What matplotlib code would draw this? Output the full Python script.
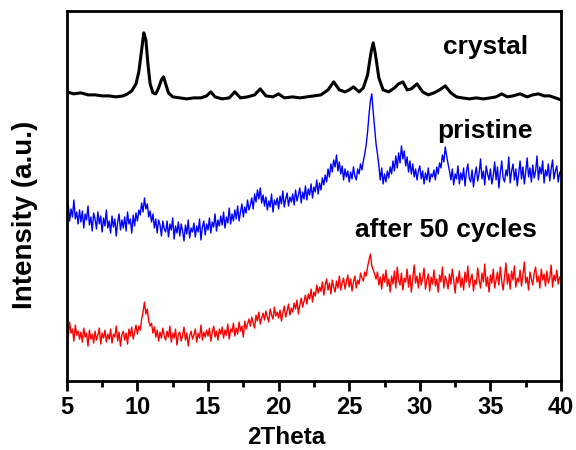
import numpy as np
import matplotlib
matplotlib.use("Agg")
import matplotlib.pyplot as plt
from matplotlib.ticker import MultipleLocator

plt.rcParams["font.family"] = ["Liberation Sans", "DejaVu Sans"]
plt.rcParams["font.weight"] = "bold"

# crystal pattern (stacked, arbitrary units)
crystal_2theta = [5.0, 5.5, 6.0, 6.5, 7.0, 7.5, 8.0, 8.5, 9.0, 9.3, 9.6, 9.9, 10.1, 10.3,
                  10.45, 10.6, 10.75, 10.9, 11.1, 11.3, 11.5, 11.7, 11.85, 12.0, 12.2, 12.5,
                  13.0, 13.5, 14.0, 14.5, 14.9, 15.2, 15.5, 16.0, 16.5, 16.9, 17.3, 17.8,
                  18.3, 18.7, 19.1, 19.6, 20.0, 20.4, 21.0, 21.5, 22.0, 22.5, 23.0, 23.5,
                  23.9, 24.3, 24.7, 25.0, 25.3, 25.7, 26.0, 26.3, 26.55, 26.7, 26.85, 27.1,
                  27.4, 27.8, 28.2, 28.5, 28.8, 29.1, 29.4, 29.8, 30.2, 30.6, 31.0, 31.4,
                  31.8, 32.2, 32.6, 33.0, 33.5, 34.0, 34.5, 35.0, 35.4, 35.8, 36.2, 36.6,
                  37.1, 37.6, 38.0, 38.4, 38.8, 39.2, 39.6, 40.0]
crystal = [358, 356, 357, 355, 355, 354, 354, 353, 354, 356, 359, 366, 378, 400,
           417, 410, 385, 366, 357, 356, 362, 370, 373, 366, 357, 353,
           352, 351, 352, 352, 354, 358, 353, 351, 352, 358, 352, 353,
           355, 361, 354, 353, 356, 352, 353, 352, 353, 354, 355, 360,
           368, 360, 358, 360, 363, 358, 362, 375, 398, 407, 396, 372,
           360, 358, 362, 366, 368, 360, 361, 366, 358, 355, 357, 360,
           364, 357, 353, 352, 351, 352, 351, 352, 353, 356, 353, 354,
           356, 353, 355, 356, 354, 354, 352, 350]

# pristine and cycled electrodes, 0.1 deg steps from 5 to 40
pristine = [
    236, 246, 229, 241, 233, 250, 231, 238, 226, 240,
    228, 239, 222, 236, 230, 244, 225, 233, 219, 237,
    231, 221, 238, 226, 234, 218, 232, 224, 240, 222,
    229, 217, 234, 223, 231, 214, 228, 236, 220, 230,
    222, 233, 219, 238, 226, 231, 217, 235, 224, 237,
    229, 240, 235, 247, 238, 252, 241, 246, 233, 239,
    228, 236, 222, 231, 217, 230, 225, 214, 229, 221,
    218, 229, 213, 226, 220, 232, 211, 224, 217, 228,
    214, 226, 219, 209, 225, 216, 230, 212, 222, 218,
    227, 213, 224, 218, 231, 210, 223, 229, 215, 226,
    220, 232, 217, 228, 223, 236, 219, 230, 224, 234,
    225, 238, 222, 233, 227, 242, 226, 236, 229, 240,
    231, 244, 229, 238, 246, 233, 243, 237, 250, 240,
    245, 252, 241, 256, 248, 260, 251, 262, 247, 255,
    244, 253, 240, 249, 243, 256, 238, 250, 245, 252,
    241, 254, 246, 259, 243, 251, 257, 244, 253, 248,
    256, 245, 260, 249, 255, 262, 247, 258, 251, 264,
    250, 261, 255, 266, 252, 263, 258, 270, 256, 267,
    260, 272, 265, 275, 268, 281, 273, 286, 278, 290,
    283, 295, 279, 288, 276, 284, 270, 281, 273, 279,
    268, 278, 271, 283, 274, 270, 281, 276, 286, 280,
    289, 296, 305, 318, 335, 349, 356, 338, 322, 306,
    296, 284, 270, 282, 266, 276, 268, 279, 272, 283,
    276, 289, 279, 294, 282, 297, 287, 304, 291, 299,
    284, 293, 278, 289, 276, 286, 273, 281, 270, 279,
    284, 271, 279, 266, 277, 270, 282, 268, 276, 273,
    280, 270, 283, 276, 287, 282, 295, 288, 303, 294,
    286, 279, 270, 281, 265, 276, 271, 284, 266, 277,
    270, 282, 264, 278, 286, 272, 268, 280, 263, 275,
    283, 269, 277, 291, 271, 279, 265, 284, 276, 270,
    281, 266, 274, 288, 270, 283, 262, 277, 289, 272,
    268, 280, 274, 293, 267, 279, 286, 270, 281, 264,
    277, 289, 271, 283, 266, 278, 292, 273, 282, 268,
    285, 272, 279, 294, 270, 283, 276, 289, 267, 280,
    274, 286, 269, 281, 290, 271, 279, 284, 268, 277,
    280]

cycled = [
    124, 112, 128, 117, 121, 109, 125, 115, 119, 111,
    118, 108, 122, 113, 117, 104, 120, 111, 116, 107,
    119, 110, 115, 122, 106, 117, 112, 120, 108, 116,
    111, 121, 107, 116, 113, 124, 109, 118, 104, 115,
    119, 110, 117, 106, 121, 114, 123, 111, 118, 125,
    116, 124, 120, 131, 138, 148, 136, 141, 129, 124,
    127, 117, 123, 113, 120, 109, 118, 112, 122, 114,
    110, 119, 113, 124, 108, 117, 112, 121, 105, 116,
    118, 109, 115, 123, 110, 117, 104, 114, 119, 111,
    115, 121, 108, 117, 112, 125, 110, 118, 113, 120,
    114, 122, 109, 118, 124, 113, 119, 110, 121, 116,
    123, 112, 120, 115, 126, 111, 121, 118, 127, 114,
    122, 116, 128, 119, 124, 113, 129, 121, 126, 131,
    124, 133, 127, 122, 135, 129, 138, 126, 132, 137,
    130, 139, 133, 128, 141, 135, 131, 143, 134, 138,
    132, 140, 129, 137, 144, 133, 139, 146, 135, 142,
    138, 147, 141, 150, 136, 145, 152, 143, 149, 155,
    146, 156, 151, 161, 148, 158, 154, 165, 157, 163,
    159, 168, 155, 165, 171, 160, 167, 156, 170, 163,
    158, 169, 162, 174, 160, 167, 172, 161, 168, 175,
    163, 171, 159, 168, 174, 162, 170, 166, 177, 172,
    169, 178, 174, 183, 190, 196, 184, 180, 176, 171,
    178, 165, 173, 161, 176, 168, 180, 164, 171, 158,
    174, 166, 179, 162, 183, 170, 165, 177, 160, 172,
    168, 181, 163, 175, 158, 171, 185, 167, 174, 162,
    177, 165, 172, 182, 161, 170, 176, 159, 173, 166,
    180, 164, 171, 158, 175, 168, 183, 162, 174, 169,
    161, 176, 166, 181, 170, 157, 173, 167, 179, 163,
    172, 160, 178, 168, 184, 163, 171, 176, 159, 170,
    166, 182, 170, 162, 177, 168, 186, 164, 173, 158,
    175, 167, 181, 162, 170, 178, 165, 183, 169, 160,
    174, 187, 166, 176, 161, 179, 170, 184, 163, 172,
    168, 180, 164, 175, 188, 167, 173, 160, 178, 171,
    165, 177, 183, 168, 174, 162, 181, 170, 176, 164,
    179, 167, 172, 185, 163, 175, 169, 180, 166, 173,
    170]

scan_2theta = np.linspace(5, 40, len(pristine))

fig = plt.figure(figsize=(5.76, 4.5), dpi=100)
ax = fig.add_axes([0.116, 0.153, 0.858, 0.823])

ax.plot(crystal_2theta, crystal, color="black", linewidth=2.2)
ax.plot(scan_2theta, pristine, color="#0000ff", linewidth=1.0)
ax.plot(scan_2theta, cycled, color="#ff0000", linewidth=1.0)

ax.text(31.65, 403, "crystal", fontsize=19, fontweight="bold", va="center")
ax.text(31.2, 319, "pristine", fontsize=19, fontweight="bold", va="center")
ax.text(25.4, 220, "after 50 cycles", fontsize=19, fontweight="bold", va="center")

ax.set_xlim(5, 40)
ax.set_ylim(69, 439)
ax.set_yticks([])
ax.xaxis.set_major_locator(MultipleLocator(5))
ax.xaxis.set_minor_locator(MultipleLocator(2.5))
ax.tick_params(axis="x", which="major", direction="out", length=7, width=2,
               labelsize=17, pad=4)
ax.tick_params(axis="x", which="minor", direction="out", length=4, width=2)
for lbl in ax.get_xticklabels():
    lbl.set_fontweight("bold")
for sp in ax.spines.values():
    sp.set_linewidth(2)

ax.set_xlabel("2Theta", fontsize=17.5, fontweight="bold")
ax.xaxis.set_label_coords(0.443, -0.12)
ax.set_ylabel("Intensity (a.u.)", fontsize=20, fontweight="bold", va="center")
ax.yaxis.set_label_coords(-0.085, 0.449)

fig.savefig("out.png", dpi=100)
